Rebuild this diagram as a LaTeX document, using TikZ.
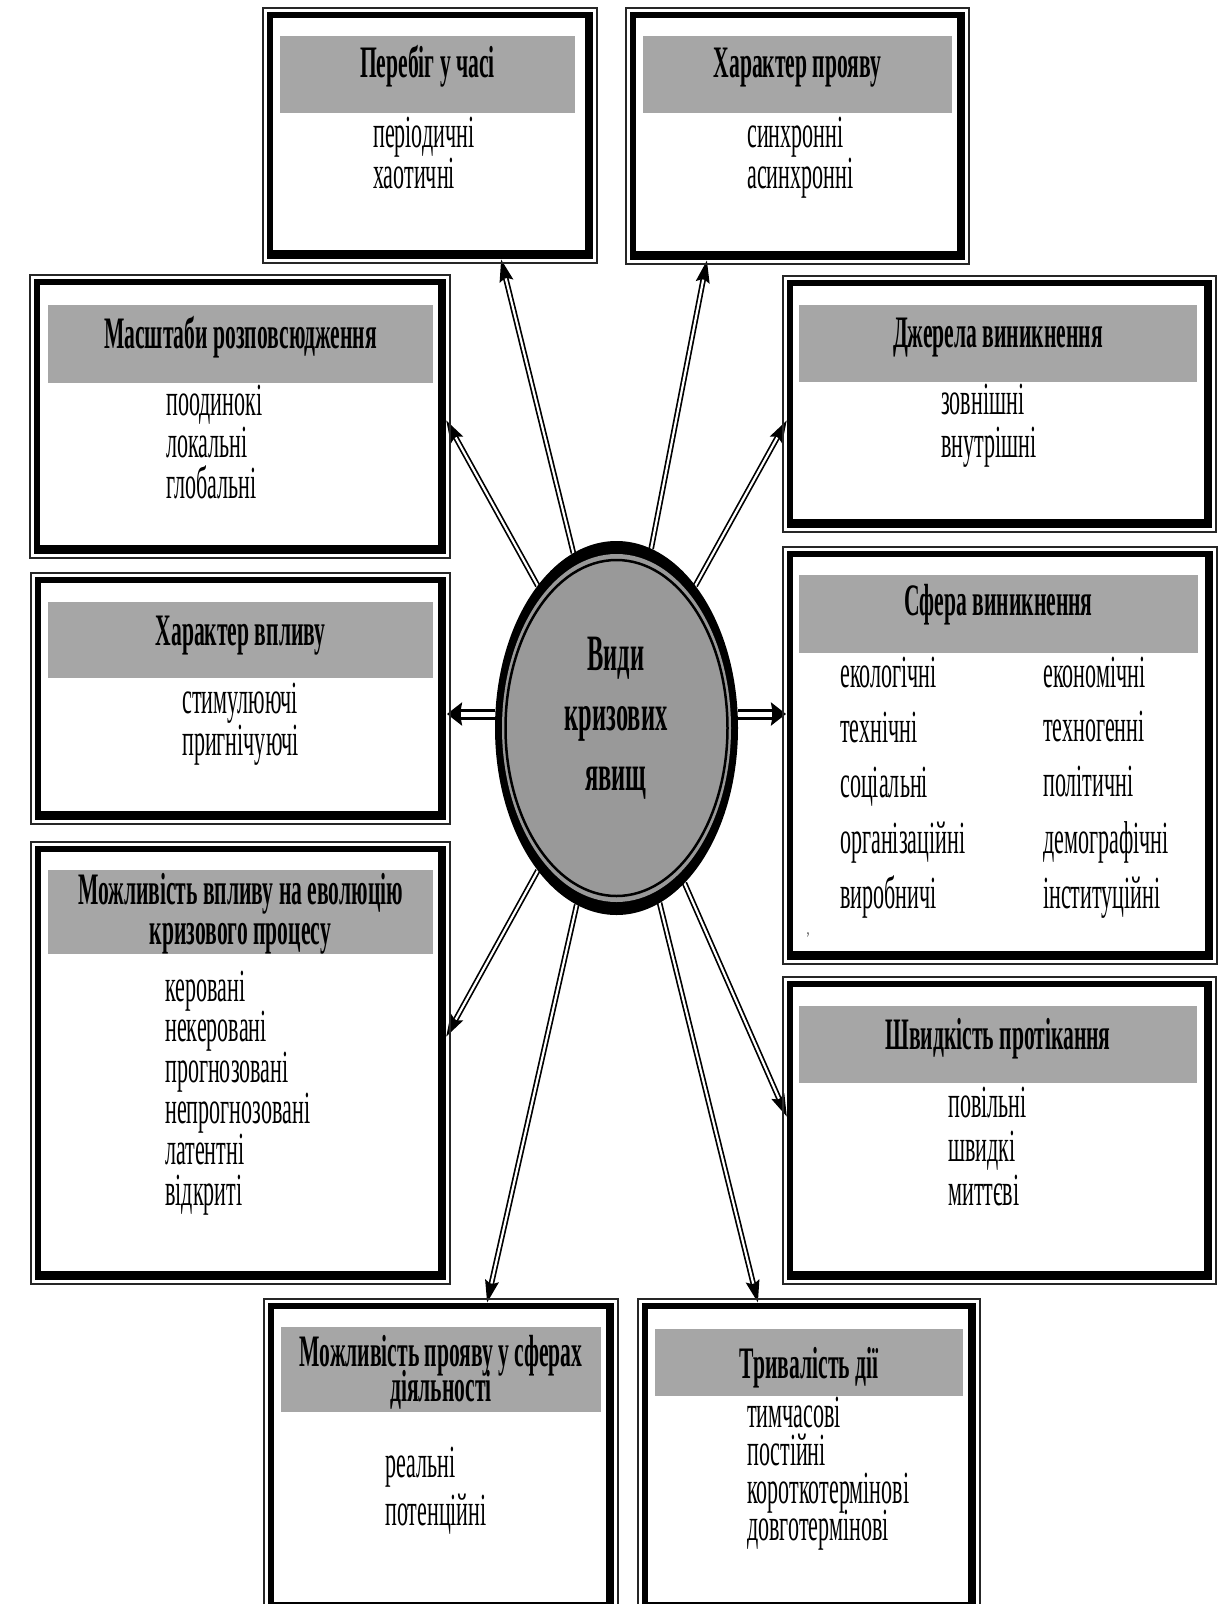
\documentclass[tikz,border=0pt]{standalone}
\usepackage{fontspec}
\newfontfamily\condfont{Liberation Serif}[FakeStretch=0.48]
\usetikzlibrary{shapes.geometric,arrows.meta}
\pgfdeclarelayer{bg}\pgfsetlayers{bg,main}
\definecolor{hdrgray}{HTML}{A6A6A6}
\definecolor{ellgray}{HTML}{999999}
\newcommand\itemfnt{\condfont\fontsize{46}{41}\selectfont}
\newcommand\hdrfnt{\condfont\bfseries\fontsize{45}{40}\selectfont}
\newcommand\ellfnt{\condfont\bfseries\fontsize{51}{60}\selectfont}
\tikzset{
  outerline/.style={draw=black!85, line width=1.4pt},
  band/.style={draw=black, line width=6pt, rectangle, inner sep=0pt, outer sep=0pt},
  hdr/.style={fill=hdrgray, rectangle, inner sep=0pt, outer sep=0pt},
  htext/.style={font=\hdrfnt, inner sep=0pt},
  itext/.style={font=\itemfnt, inner sep=0pt, anchor=base west},
  etext/.style={font=\ellfnt, inner sep=0pt, anchor=base},
  shaftb/.style={line width=5.6pt, -{Stealth[length=22pt,width=13pt,inset=3pt]}},
  shaftw/.style={draw=white, line width=2.2pt, shorten >=20pt},
  hshaftb/.style={line width=11pt, -{Stealth[length=15pt,width=23pt,inset=2pt]}},
  hshaftw/.style={draw=white, line width=5pt, shorten >=14pt},
}
\newcommand\ubox[5]{%
  \draw[outerline] (#2,#3) rectangle (#4,#5);
  \pgfmathsetmacro\ubw{#4-#2-14}%
  \pgfmathsetmacro\ubh{#5-#3-14}%
  \node[band, anchor=north west, minimum width=\ubw pt, minimum height=\ubh pt] (#1) at (#2+7,#3+7) {};
  \fill ([yshift=2.5pt]#1.south west) rectangle ([yshift=6pt]#1.south east);
  \fill ([xshift=-2.5pt]#1.south east) rectangle ([xshift=-5pt]#1.north east);}
\newcommand\uhdr[5]{%
  \pgfmathsetmacro\ubw{#4-#2}%
  \pgfmathsetmacro\ubh{#5-#3}%
  \node[hdr, anchor=north west, minimum width=\ubw pt, minimum height=\ubh pt] (#1) at (#2,#3) {};}
\begin{document}
\begin{tikzpicture}[x=1pt,y=-1pt]
\useasboundingbox (0,0) rectangle (1231,1604);
% boxes
\ubox{b1}{263}{8}{597}{263}
\ubox{b2}{626}{8}{969}{264}
\ubox{b3}{30}{275}{450}{558}
\ubox{b4}{783}{276}{1216}{532}
\ubox{b5}{31}{573}{450}{824}
\ubox{b6}{783}{547}{1217}{964}
\ubox{b7}{31}{842}{450}{1284}
\ubox{b8}{783}{977}{1216}{1284}
\ubox{b9}{264}{1299}{618}{1615}
\ubox{b10}{638}{1299}{980}{1615}
% headers
\uhdr{h1}{280}{36}{575}{113}
\uhdr{h2}{643}{36}{952}{113}
\uhdr{h3}{48}{305}{433}{383}
\uhdr{h4}{799}{305}{1197}{382}
\uhdr{h5}{48}{602}{433}{678}
\uhdr{h6}{799}{575}{1198}{653}
\uhdr{h7}{48}{870}{433}{954}
\uhdr{h8}{799}{1006}{1197}{1083}
\uhdr{h9}{281}{1327}{601}{1412}
\uhdr{h10}{655}{1329}{963}{1396}
% header texts
\node[htext, anchor=base] (h1t) at (427.5,77) {Перебіг у часі};
\node[htext, anchor=base] (h2t) at (797.5,77) {Характер прояву};
\node[htext, anchor=base] (h3t) at (240.5,348) {Масштаби розповсюдження};
\node[htext, anchor=base] (h4t) at (998,347) {Джерела виникнення};
\node[htext, anchor=base] (h5t) at (240.5,645) {Характер впливу};
\node[htext, anchor=base] (h6t) at (998.5,615) {Сфера виникнення};
\node[htext, anchor=base] (h7t) at (240.5,904) {Можливість впливу на еволюцію};
\node[htext, anchor=base] (h7u) at (240.5,944) {кризового процесу};
\node[htext, anchor=base] (h8t) at (998,1049) {Швидкість протікання};
\node[htext, anchor=base] (h9t) at (441,1366) {Можливість прояву у сферах};
\node[htext, anchor=base] (h9u) at (441,1401) {діяльності};
\node[htext, anchor=base] (h10t) at (809,1378) {Тривалість дії};
% items
\node[itext] (i1a) at (373,147) {періодичні};
\node[itext] (i1b) at (373,188) {хаотичні};
\node[itext] (i2a) at (747,147) {синхронні};
\node[itext] (i2b) at (747,188) {асинхронні};
\node[itext] (i3a) at (166,415) {поодинокі};
\node[itext] (i3b) at (166,457) {локальні};
\node[itext] (i3c) at (166,498) {глобальні};
\node[itext] (i4a) at (941,414) {зовнішні};
\node[itext] (i4b) at (941,457) {внутрішні};
\node[itext] (i5a) at (182,713) {стимулюючі};
\node[itext] (i5b) at (182,755) {пригнічуючі};
\node[itext] (i6a) at (840,687) {екологічні};
\node[itext] (i6b) at (840,742) {технічні};
\node[itext] (i6c) at (840,797) {соціальні};
\node[itext] (i6d) at (840,853) {організаційні};
\node[itext] (i6e) at (840,908) {виробничі};
\node[itext] (i6f) at (1043,687) {економічні};
\node[itext] (i6g) at (1043,741) {техногенні};
\node[itext] (i6h) at (1043,796) {політичні};
\node[itext] (i6i) at (1043,853) {демографічні};
\node[itext] (i6j) at (1043,908) {інституційні};
\node[inner sep=0pt, font=\condfont\fontsize{18}{18}\selectfont, anchor=base] (mk) at (808,934) {‚};
\node[itext] (i7a) at (165,1001) {керовані};
\node[itext] (i7b) at (165,1041) {некеровані};
\node[itext] (i7c) at (165,1082) {прогнозовані};
\node[itext] (i7d) at (165,1123) {непрогнозовані};
\node[itext] (i7e) at (165,1164) {латентні};
\node[itext] (i7f) at (165,1205) {відкриті};
\node[itext] (i8a) at (948,1117) {повільні};
\node[itext] (i8b) at (948,1161) {швидкі};
\node[itext] (i8c) at (948,1205) {миттєві};
\node[itext] (i9a) at (385,1477) {реальні};
\node[itext] (i9b) at (385,1525) {потенційні};
\node[itext] (i10a) at (747,1427) {тимчасові};
\node[itext] (i10b) at (747,1465) {постійні};
\node[itext] (i10c) at (747,1503) {короткотермінові};
\node[itext] (i10d) at (747,1540) {довготермінові};
% central ellipse
\node[ellipse, fill=black, minimum width=243pt, minimum height=374pt, inner sep=0pt, outer sep=0pt] (c) at (616.5,728) {};
\fill[ellgray] (c.center) ellipse [x radius=114.5pt, y radius=174pt];
\draw[line width=2.5pt, fill=ellgray] (c.center) ellipse [x radius=111pt, y radius=168pt];
\node[etext] (e1) at (616,670) {Види};
\node[etext] (e2) at (616,730) {кризових};
\node[etext] (e3) at (616,790) {явищ};
% arrow end points
\coordinate (p1) at ([xshift=71pt,yshift=-3pt]b1.south);
\coordinate (p2) at ([xshift=-90.5pt,yshift=-3pt]b2.south);
\coordinate (p3) at ([xshift=3pt,yshift=-3.5pt]b3.east);
\coordinate (p4) at ([xshift=-3pt,yshift=-16pt]b4.west);
\coordinate (p5) at ([xshift=4pt,yshift=-15.5pt]b5.east);
\coordinate (p6) at ([xshift=-4pt,yshift=41.5pt]b6.west);
\coordinate (p7) at ([xshift=3pt,yshift=26pt]b7.east);
\coordinate (p8) at ([xshift=-3pt,yshift=13.5pt]b8.west);
\coordinate (p9) at ([xshift=46pt,yshift=3pt]b9.north);
\coordinate (p10) at ([xshift=-51pt,yshift=3pt]b10.north);
\begin{pgfonlayer}{bg}
\foreach \p in {p1,p2,p3,p4,p7,p8,p9,p10}{
  \draw[shaftb] (c) -- (\p);
  \draw[shaftw] (c) -- (\p);
}
\draw[hshaftb] (c.west |- p5) -- (p5);
\draw[hshaftw] (c.west |- p5) -- (p5);
\draw[hshaftb] (c.east |- p6) -- (p6);
\draw[hshaftw] (c.east |- p6) -- (p6);
\end{pgfonlayer}
\end{tikzpicture}
\end{document}
